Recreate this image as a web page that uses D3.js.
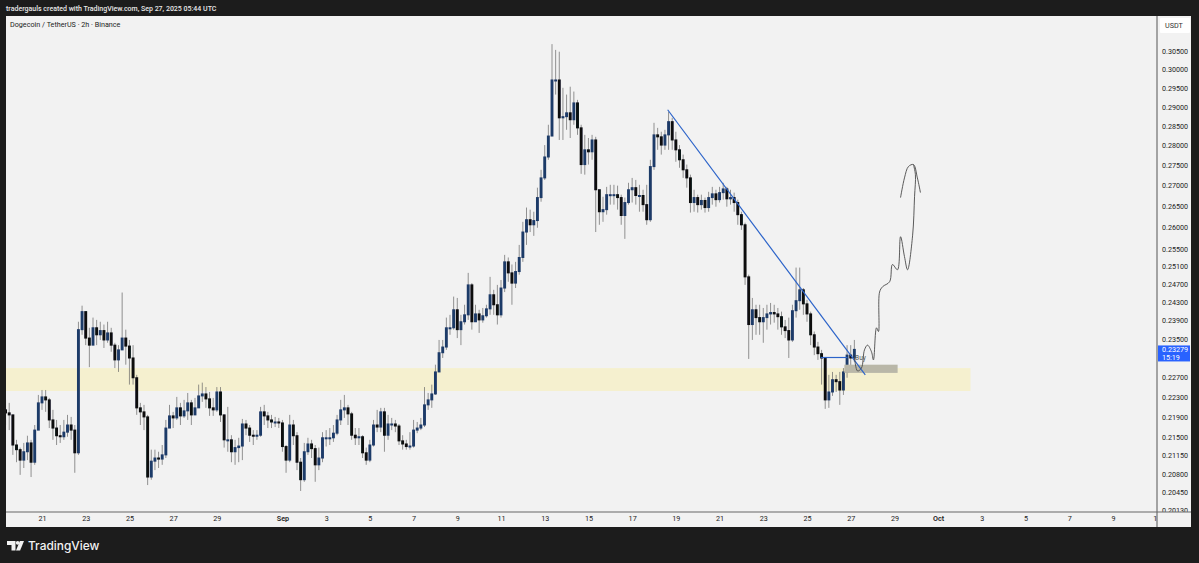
<!DOCTYPE html>
<html><head><meta charset="utf-8">
<script src="https://cdn.jsdelivr.net/npm/d3@7"></script>
<style>
html,body{margin:0;padding:0;background:#1c1c1c;overflow:hidden}
svg{display:block}
text{font-family:Roboto,"Liberation Sans",sans-serif}
</style></head><body><svg id="c" width="1199" height="563"></svg>
<script>
// Candles: 4-hour samples
const firstCandle = "2025-08-19T08:00:00Z";
const firstOpen = 0.2204;
const closes = [.2198,.2194,.2135,.2126,.2106,.2122,.2139,.2102,.2164,.2218,
.2230,.2224,.2184,.2168,.2153,.2151,.2160,.2174,.2164,.2120,
.2370,.2409,.2352,.2337,.2374,.2359,.2368,.2348,.2363,.2337,
.2306,.2327,.2352,.2335,.2310,.2269,.2208,.2200,.2190,.2074,
.2104,.2110,.2108,.2116,.2168,.2192,.2188,.2208,.2192,.2202,
.2218,.2194,.2208,.2232,.2236,.2226,.2208,.2204,.2240,.2194,
.2145,.2145,.2122,.2130,.2133,.2176,.2168,.2154,.2153,.2154,
.2200,.2192,.2184,.2180,.2180,.2178,.2132,.2106,.2174,.2153,
.2102,.2069,.2122,.2137,.2128,.2097,.2110,.2149,.2149,.2149,
.2158,.2184,.2204,.2208,.2196,.2154,.2149,.2151,.2120,.2106,
.2135,.2174,.2170,.2200,.2154,.2176,.2176,.2172,.2143,.2137,
.2132,.2133,.2164,.2168,.2174,.2214,.2224,.2236,.2281,.2321,
.2333,.2374,.2374,.2413,.2370,.2387,.2402,.2468,.2387,.2404,
.2391,.2400,.2415,.2446,.2424,.2402,.2461,.2520,.2495,.2472,
.2498,.2530,.2589,.2618,.2606,.2616,.2671,.2719,.2771,.2824,
.2971,.2971,.2871,.2874,.2884,.2866,.2910,.2845,.2752,.2789,
.2784,.2814,.2690,.2637,.2642,.2678,.2678,.2678,.2671,.2628,
.2659,.2690,.2695,.2676,.2676,.2654,.2618,.2747,.2827,.2822,
.2801,.2827,.2861,.2814,.2789,.2764,.2739,.2719,.2659,.2671,
.2654,.2664,.2647,.2671,.2680,.2666,.2683,.2692,.2668,.2671,
.2659,.2630,.2606,.2486,.2381,.2413,.2396,.2387,.2396,.2404,
.2407,.2404,.2398,.2376,.2368,.2348,.2411,.2433,.2457,.2426,
.2404,.2359,.2333,.2319,.2310,.2224,.2240,.2265,.2261,.2244,.2281,.2316,.2310,.2328];
const highs = [.2224,.2218,.2153,.2145,.2130,.2139,.2153,.2145,.2174,.2234,
.2244,.2244,.2228,.2204,.2184,.2174,.2184,.2194,.2190,.2174,
.2387,.2422,.2402,.2374,.2396,.2391,.2387,.2381,.2387,.2374,
.2342,.2337,.2451,.2370,.2348,.2337,.2275,.2218,.2214,.2194,
.2126,.2126,.2122,.2135,.2184,.2214,.2200,.2230,.2218,.2224,
.2238,.2224,.2228,.2255,.2259,.2250,.2240,.2228,.2250,.2250,
.2194,.2210,.2154,.2145,.2149,.2186,.2184,.2174,.2164,.2164,
.2210,.2214,.2200,.2194,.2190,.2188,.2184,.2135,.2194,.2184,
.2160,.2110,.2139,.2149,.2145,.2135,.2130,.2160,.2164,.2168,
.2174,.2194,.2224,.2234,.2214,.2200,.2168,.2168,.2154,.2130,
.2145,.2184,.2204,.2208,.2208,.2194,.2188,.2184,.2176,.2154,
.2145,.2160,.2184,.2180,.2188,.2250,.2238,.2255,.2296,.2348,
.2348,.2396,.2402,.2442,.2439,.2402,.2424,.2495,.2472,.2424,
.2413,.2417,.2424,.2486,.2457,.2468,.2479,.2536,.2530,.2514,
.2520,.2559,.2613,.2647,.2642,.2637,.2695,.2739,.2801,.2853,
.3069,.3053,.3048,.2950,.2932,.2953,.2940,.2918,.2853,.2827,
.2819,.2827,.2822,.2678,.2673,.2697,.2702,.2702,.2700,.2678,
.2671,.2707,.2719,.2714,.2702,.2690,.2702,.2764,.2858,.2845,
.2835,.2840,.2887,.2871,.2835,.2801,.2777,.2752,.2727,.2690,
.2678,.2678,.2671,.2685,.2697,.2690,.2697,.2707,.2697,.2690,
.2683,.2666,.2637,.2611,.2491,.2439,.2424,.2424,.2417,.2424,
.2428,.2424,.2417,.2409,.2391,.2396,.2424,.2507,.2507,.2461,
.2435,.2409,.2366,.2344,.2327,.2310,.2275,.2281,.2275,.2281,.2289,.2337,.2337,.2348];
const lows = [.2174,.2164,.2116,.2102,.2078,.2091,.2106,.2074,.2097,.2164,
.2204,.2200,.2168,.2145,.2135,.2139,.2145,.2151,.2145,.2082,
.2116,.2359,.2337,.2291,.2348,.2337,.2348,.2331,.2342,.2323,
.2289,.2281,.2327,.2296,.2255,.2255,.2194,.2174,.2164,.2059,
.2069,.2087,.2091,.2097,.2110,.2174,.2168,.2184,.2174,.2188,
.2184,.2174,.2194,.2208,.2220,.2208,.2192,.2192,.2200,.2180,
.2130,.2122,.2102,.2097,.2102,.2106,.2154,.2141,.2135,.2145,
.2151,.2174,.2168,.2168,.2170,.2168,.2122,.2082,.2102,.2135,
.2087,.2048,.2065,.2116,.2110,.2065,.2087,.2102,.2132,.2135,
.2141,.2154,.2174,.2188,.2174,.2145,.2135,.2135,.2110,.2097,
.2102,.2132,.2160,.2160,.2122,.2145,.2164,.2160,.2135,.2126,
.2126,.2126,.2130,.2158,.2164,.2170,.2204,.2208,.2234,.2285,
.2310,.2327,.2359,.2370,.2352,.2337,.2381,.2391,.2370,.2391,
.2363,.2385,.2396,.2402,.2402,.2381,.2396,.2452,.2475,.2424,
.2461,.2491,.2520,.2559,.2589,.2580,.2599,.2661,.2714,.2764,
.2827,.2932,.2814,.2814,.2840,.2819,.2853,.2827,.2729,.2727,
.2752,.2764,.2589,.2606,.2613,.2630,.2654,.2654,.2642,.2606,
.2573,.2654,.2659,.2654,.2637,.2637,.2606,.2613,.2739,.2789,
.2777,.2789,.2789,.2789,.2759,.2744,.2719,.2695,.2635,.2637,
.2635,.2642,.2635,.2637,.2654,.2649,.2659,.2666,.2649,.2654,
.2637,.2606,.2594,.2468,.2308,.2348,.2359,.2359,.2342,.2370,
.2381,.2385,.2370,.2359,.2352,.2310,.2344,.2396,.2413,.2402,
.2387,.2337,.2316,.2306,.2255,.2206,.2208,.2232,.2240,.2214,.2234,.2269,.2289,.2302];

// Axis labels
const priceTicks = [.305,.3,.295,.29,.285,.28,.275,.27,.265,.26,.255,.251,.247,.243,.239,.235,.227,.223,.219,.215,.2115,.208,.2045,.2013];
const dateTicks = ["2025-08-21","2025-08-23","2025-08-25","2025-08-27","2025-08-29","2025-09-01","2025-09-03","2025-09-05","2025-09-07","2025-09-09","2025-09-11","2025-09-13","2025-09-15","2025-09-17","2025-09-19","2025-09-21","2025-09-23","2025-09-25","2025-09-27","2025-09-29","2025-10-01","2025-10-03","2025-10-05","2025-10-07","2025-10-09","2025-10-11"];
const dateLabels = ["21","23","25","27","29","Sep","3","5","7","9","11","13","15","17","19","21","23","25","27","29","Oct","3","5","7","9","11"];
const headerText = "tradergauls created with TradingView.com, Sep 27, 2025 05:44 UTC";
const titleText = "Dogecoin / TetherUS · 2h · Binance";
const lastPrice = 0.23279, countdown = "15:19", unitLabel = "USDT";

// Drawings
const zoneDates = ["2025-08-19T08:00:00Z","2025-10-02T11:30:00Z"], zonePrices = [.2289,.2242];
const boxDates = ["2025-09-26T17:00:00Z","2025-09-29T03:30:00Z"], boxPrices = [.2296,.2279];
const trendDates = ["2025-09-18T15:00:00Z","2025-09-27T16:00:00Z"], trendPrices = [.2892,.2275];
const levelDates = ["2025-09-25T15:00:00Z","2025-09-26T20:30:00Z"], levelPrice = .2311;
// forecast sketch: days since 21 Aug, and price
const sketchDays = [37.17,37.31,37.49,37.63,37.77,37.95,38.04,38.18,38.27,38.32,38.46,38.78,38.91,39.14,39.28,39.46,39.60,39.83,39.92,39.96,39.87];
const sketchPrices = [.2312,.2283,.2289,.2327,.2337,.2323,.2306,.2374,.2366,.2452,.2464,.2475,.2514,.2502,.2578,.2532,.2502,.2580,.2673,.2727,.2752];
const arrowDays = [39.28,39.46,39.64,39.87,40.05,40.19];
const arrowPrices = [.2671,.2719,.2747,.2752,.2719,.2683];

const svg = d3.select("#c");
const L = 6, R = 1157, T = 16, B = 512, PR = 1191, FB = 527;
const x = d3.scaleUtc().domain([new Date("2025-08-21T00:00:00Z"), new Date("2025-10-09T00:00:00Z")]).range([42, 1113]);
const y = d3.scaleLog().domain([.2013,.305]).range([510,51]);
const fourH = 4*3600e3, t0 = +new Date(firstCandle), dayMs = 864e5, d21 = +new Date("2025-08-21T00:00:00Z");

svg.append("rect").attr("width",1199).attr("height",563).attr("fill","#1c1c1c");
svg.append("rect").attr("x",L).attr("y",T).attr("width",PR-L).attr("height",FB-T).attr("fill","#f2f2f2");

const defs = svg.append("defs");
defs.append("clipPath").attr("id","plot").append("rect").attr("x",L).attr("y",T).attr("width",R-L).attr("height",B-T);
defs.append("clipPath").attr("id","pa").append("rect").attr("x",R).attr("y",T).attr("width",PR-R).attr("height",B-T);
defs.append("clipPath").attr("id","ta").append("rect").attr("x",L).attr("y",B).attr("width",R-L).attr("height",FB-B);
defs.append("filter").attr("id","soft").append("feGaussianBlur").attr("stdDeviation",0.4);

const plot = svg.append("g").attr("clip-path","url(#plot)");
const dt = s => new Date(s);
plot.append("rect").attr("x",x(dt(zoneDates[0]))).attr("width",x(dt(zoneDates[1]))-x(dt(zoneDates[0])))
  .attr("y",y(zonePrices[0])).attr("height",y(zonePrices[1])-y(zonePrices[0])).attr("fill","#f5f0cf");

const candles = closes.map((c,i)=>({t:new Date(t0+i*fourH),o:i?closes[i-1]:firstOpen,c,h:highs[i],l:lows[i]}));
const cg = plot.append("g").attr("filter","url(#soft)");
cg.selectAll("line.w").data(candles).join("line").attr("class","w")
  .attr("x1",d=>x(d.t)).attr("x2",d=>x(d.t)).attr("y1",d=>y(d.h)).attr("y2",d=>y(d.l))
  .attr("stroke","#666").attr("stroke-opacity",.7).attr("stroke-width",1);
cg.selectAll("rect.b").data(candles).join("rect").attr("class","b")
  .attr("x",d=>x(d.t)-1.45).attr("width",2.9)
  .attr("y",d=>y(Math.max(d.o,d.c))-.5).attr("height",d=>Math.max(2,Math.abs(y(d.o)-y(d.c))+1))
  .attr("fill",d=>d.c>=d.o?"#1f3a68":"#07090d");

plot.append("rect").attr("x",x(dt(boxDates[0]))).attr("width",x(dt(boxDates[1]))-x(dt(boxDates[0])))
  .attr("y",y(boxPrices[0])).attr("height",y(boxPrices[1])-y(boxPrices[0])).attr("fill","#b9b7a8");
plot.append("line").attr("x1",x(dt(trendDates[0]))).attr("x2",x(dt(trendDates[1])))
  .attr("y1",y(trendPrices[0])).attr("y2",y(trendPrices[1])).attr("stroke","#2b63c9").attr("stroke-width",1.2);
plot.append("line").attr("x1",x(dt(levelDates[0]))).attr("x2",x(dt(levelDates[1])))
  .attr("y1",y(levelPrice)).attr("y2",y(levelPrice)).attr("stroke","#2b63c9").attr("stroke-width",1.2);
const sk = d3.line().x(d=>x(new Date(d21+d[0]*dayMs))).y(d=>y(d[1])).curve(d3.curveCatmullRom);
plot.append("path").attr("d",sk(sketchDays.map((d,i)=>[d,sketchPrices[i]]))).attr("fill","none").attr("stroke","#4a4a4a").attr("stroke-width",.9);
plot.append("path").attr("d",sk(arrowDays.map((d,i)=>[d,arrowPrices[i]]))).attr("fill","none").attr("stroke","#4a4a4a").attr("stroke-width",.9);
plot.append("text").attr("x",x(new Date(d21+37.2*dayMs))).attr("y",y(.2306)).attr("font-size",6.5).attr("fill","#555").text("Buy");

// Price axis
svg.append("line").attr("x1",R).attr("x2",R).attr("y1",T).attr("y2",FB).attr("stroke","#555").attr("stroke-width",1);
const pa = svg.append("g").attr("clip-path","url(#pa)").append("g").attr("transform",`translate(${R+5},0)`)
  .call(d3.axisRight(y).tickValues(priceTicks).tickSize(0).tickPadding(0).tickFormat(d3.format(".5f")));
pa.select(".domain").remove();
pa.selectAll("text").attr("font-size",7.2).attr("fill","#222").style("font-family","Roboto,sans-serif");

// Time axis
const ta = svg.append("g").attr("clip-path","url(#ta)").append("g").attr("transform",`translate(0,${B})`)
  .call(d3.axisBottom(x).tickValues(dateTicks.map(s=>new Date(s+"T00:00:00Z"))).tickSize(0).tickPadding(4)
    .tickFormat((d,i)=>dateLabels[i]));
ta.select(".domain").remove();
ta.selectAll("text").attr("font-size",7.2).attr("fill","#222").style("font-family","Roboto,sans-serif");
ta.selectAll("text").filter((d,i)=>dateLabels[i]==="Sep"||dateLabels[i]==="Oct").attr("font-weight",600);
svg.append("line").attr("x1",L).attr("x2",PR).attr("y1",B).attr("y2",B).attr("stroke","#666").attr("stroke-width",1);

// Unit box
svg.append("rect").attr("x",1160).attr("y",18).attr("width",30).attr("height",15).attr("fill","#fff").attr("rx",1);
svg.append("text").attr("x",1165).attr("y",28).attr("font-size",7.2).attr("fill","#333").text(unitLabel);

// Last price label
const ly = y(lastPrice);
svg.append("rect").attr("x",R+1).attr("y",ly-4).attr("width",32).attr("height",16).attr("fill","#2962ff");
svg.append("text").attr("x",R+5).attr("y",ly+2.5).attr("font-size",7.2).attr("fill","#fff").text(d3.format(".5f")(lastPrice));
svg.append("text").attr("x",R+5).attr("y",ly+10.5).attr("font-size",7.2).attr("fill","#fff").text(countdown);

// Header and title
svg.append("text").attr("x",6).attr("y",11).attr("font-size",7).attr("font-weight",500).attr("fill","#e8e8e8").text(headerText);
svg.append("text").attr("x",10).attr("y",27).attr("font-size",7.2).attr("fill","#222").text(titleText);

// Footer logo
const logo = svg.append("g").attr("fill","#f2f2f2");
logo.append("path").attr("d","M7 541h8.5v9.5h-4v-5.6H7z");
logo.append("circle").attr("cx",17.7).attr("cy",542.8).attr("r",1.9);
logo.append("path").attr("d","M16 550.5l3.9-9.5h4.1l-3.9 9.5z");
svg.append("text").attr("x",28).attr("y",550).attr("font-size",11.9).attr("font-weight",500).attr("fill","#f2f2f2").style("font-family","Inter,Roboto,sans-serif").text("TradingView");
</script></body></html>
